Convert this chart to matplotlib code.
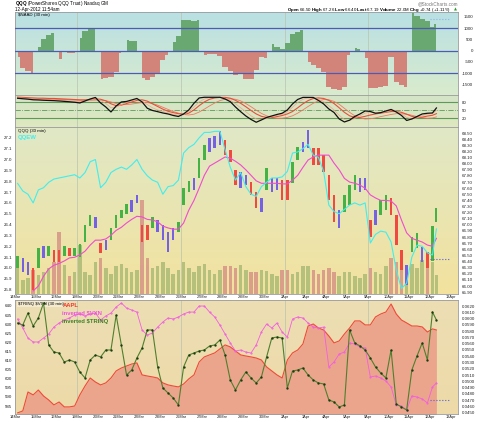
import numpy as np
import matplotlib
matplotlib.use("Agg")
import matplotlib.pyplot as plt

plt.rcParams['font.family'] = ['Liberation Sans', 'DejaVu Sans']
plt.rcParams['mathtext.fontset'] = 'custom'
plt.rcParams['mathtext.rm'] = 'Liberation Sans'
plt.rcParams['mathtext.bf'] = 'Liberation Sans:bold'

days = ["14Mar", "15Mar", "16Mar", "19Mar", "20Mar", "21Mar", "22Mar", "23Mar",
        "26Mar", "27Mar", "28Mar", "29Mar", "30Mar", "2Apr", "3Apr", "4Apr",
        "5Apr", "9Apr", "10Apr", "11Apr", "12Apr", "13Apr"]
week_starts = [3, 8, 13, 17]

# each session read as 4 groups of 30-min bars, 12Apr only two groups so far
qqq_hi = [66.49, 66.46, 66.39, 66.29, 66.62, 66.65, 66.65, 66.59,
          66.59, 66.65, 66.62, 66.62, 66.68, 66.99, 67.16, 67.13,
          66.70, 66.75, 66.95, 67.16, 67.24, 67.34, 67.40, 67.49,
          66.99, 66.99, 67.13, 67.08, 66.99, 66.88, 66.95, 67.05,
          67.60, 67.72, 67.76, 68.09, 68.30, 68.42, 68.45, 68.53,
          68.39, 68.22, 67.89, 67.86, 67.81, 67.70, 67.54, 67.44,
          67.93, 67.76, 67.76, 67.73, 67.73, 68.03, 68.27, 68.35,
          68.55, 68.25, 68.25, 68.14, 67.81, 67.49, 67.24, 67.49,
          67.65, 67.81, 67.76, 67.76, 67.08, 67.24, 67.40, 67.49,
          67.44, 67.16, 66.59, 66.34, 66.80, 66.86, 66.64, 66.55,
          66.98, 67.27]
qqq_lo = [66.29, 66.23, 66.18, 65.93, 66.29, 66.46, 66.49, 66.39,
          66.39, 66.49, 66.49, 66.49, 66.47, 66.72, 66.98, 66.95,
          66.54, 66.59, 66.75, 66.95, 67.11, 67.18, 67.21, 67.36,
          66.72, 66.75, 66.95, 66.88, 66.75, 66.55, 66.75, 66.88,
          67.32, 67.54, 67.57, 67.76, 68.06, 68.19, 68.25, 68.30,
          68.14, 68.03, 67.65, 67.60, 67.65, 67.49, 67.27, 67.21,
          67.57, 67.54, 67.57, 67.40, 67.40, 67.68, 68.06, 68.19,
          68.25, 67.98, 67.98, 67.86, 67.40, 67.04, 66.95, 67.21,
          67.32, 67.57, 67.54, 67.57, 66.80, 66.99, 67.16, 67.24,
          67.16, 66.67, 66.26, 66.01, 66.55, 66.62, 66.39, 66.29,
          66.41, 67.04]
qqq_impulse = ("gbbr" "gbgr" "rgrg" "gggb" "rbgg" "ggbb" "rrgb" "bbbg"
               "ggbg" "gbbb" "rrrb" "brrb" "gbbr" "rggb" "brrr" "rrbg"
               "ggbb" "rbgg" "rrrb" "ggbr" "gg")
qqq_ma = [np.nan, np.nan, np.nan, 65.92, 66.00, 66.16, 66.28, 66.34,
          66.37, 66.41, 66.46, 66.47, 66.51, 66.57, 66.67, 66.75,
          66.75, 66.77, 66.83, 66.91, 66.96, 67.03, 67.09, 67.14,
          67.13, 67.09, 67.08, 67.05, 66.98, 66.95, 66.93, 66.93,
          67.03, 67.24, 67.40, 67.60, 67.81, 67.96, 68.01, 68.06,
          68.11, 68.09, 68.04, 67.98, 67.90, 67.81, 67.72, 67.68,
          67.68, 67.68, 67.68, 67.67, 67.67, 67.73, 67.81, 67.94,
          68.06, 68.11, 68.14, 68.14, 68.14, 68.01, 67.90, 67.76,
          67.70, 67.68, 67.65, 67.60, 67.49, 67.44, 67.40, 67.40,
          67.39, 67.31, 67.08, 66.87, 66.78, 66.75, 66.72, 66.67,
          66.65, 66.78]
qqew = [26.78, 26.71, 26.68, 26.60, 26.72, 26.74, 26.79, 26.82,
        26.83, 26.84, 26.85, 26.86, 26.83, 26.88, 26.98, 27.00,
        26.74, 26.79, 26.88, 26.91, 26.93, 26.91, 26.95, 27.00,
        26.91, 26.85, 26.81, 26.79, 26.68, 26.75, 26.76, 26.81,
        27.06, 27.11, 27.14, 27.20, 27.25, 27.25, 27.26, 27.26,
        27.09, 26.93, 26.81, 26.88, 26.75, 26.68, 26.66, 26.75,
        26.79, 26.83, 26.83, 26.84, 26.89, 27.06, 27.07, 27.10,
        27.14, 27.04, 27.02, 26.89, 26.58, 26.52, 26.50, 26.54,
        26.58, 26.60, 26.58, 26.60, 26.23, 26.31, 26.34, 26.33,
        26.24, 25.98, 25.81, 25.86, 26.10, 26.21, 26.20, 26.14,
        26.12, 26.36]
volume_m = [6.2, 3.4, 3.8, 5.8, 4.6, 5.3, 6.2, 7.7,
            14.9, 7.0, 4.3, 5.3, 11.8, 5.3, 4.6, 7.7,
            8.6, 6.2, 4.8, 6.7, 7.2, 6.2, 5.3, 5.8,
            22.6, 8.6, 6.2, 6.7, 7.7, 6.2, 4.8, 5.8,
            7.7, 6.2, 5.3, 6.7, 7.2, 5.8, 4.8, 5.8,
            6.7, 6.7, 6.2, 7.0, 5.8, 5.3, 5.3, 5.8,
            5.5, 4.8, 4.3, 5.8, 5.8, 4.8, 5.3, 6.7,
            6.7, 5.8, 4.8, 5.8, 6.2, 5.3, 4.3, 5.3,
            5.3, 4.3, 3.8, 4.8, 6.2, 5.3, 4.8, 6.7,
            8.6, 7.7, 7.4, 6.7, 7.2, 6.2, 8.2, 9.1,
            7.7, 4.6]
naad = [-280, -770, -900, -990, 165, 520, 700, 785,
        -370, -60, -100, -100, 565, 875, 1010, 1010,
        -1255, -1210, -1170, -945, -100, 475, 430, 430,
        -1210, -1300, -1170, -990, -410, -190, 385, 650,
        1365, 1365, 1320, 1365, -190, -150, -150, -235,
        -725, -900, -1080, -1035, -1255, -1255, -855, -280,
        -325, 300, 165, 75, 340, 740, 830, 920,
        -500, -635, -770, -945, -1610, -1700, -1745, -1610,
        -190, 120, 75, -325, -1655, -1655, -1610, -1565,
        -280, -1390, -1520, -1610, 1675, 1540, 1405, 1320,
        1050, 1185]
stoch_fast = [95.8, 93.9, 92.4, 90.1, 89.4, 88.3, 87.5, 86.8,
              85.6, 84.1, 82.6, 80.8, 78.1, 85.6, 93.1, 98.8,
              78.1, 63.1, 44.4, 66.9, 81.9, 83.8, 89.4, 95.0,
              81.9, 58.3, 50.0, 45.5, 40.6, 36.9, 31.3, 27.5,
              36.9, 51.9, 77.0, 96.9, 99.5, 99.5, 99.5, 99.5,
              93.1, 83.0, 63.1, 45.5, 29.4, 16.3, 5.8, 14.4,
              23.8, 29.4, 35.0, 39.5, 51.9, 74.4, 91.3, 99.0,
              99.0, 98.8, 87.5, 74.4, 55.6, 42.5, 18.1, 6.9,
              13.6, 27.5, 36.9, 48.1, 46.3, 39.5, 41.8, 48.1,
              53.8, 44.4, 31.3, 12.5, 18.1, 27.5, 36.9, 39.5,
              40.6, 59.4]
stoch_mid = [97, 96, 95, 93, 92, 91, 90, 89,
             88, 87, 86, 85, 83, 85, 89, 94,
             88, 76, 60, 62, 72, 80, 86, 91,
             86, 72, 60, 52, 46, 41, 36, 32,
             34, 45, 63, 82, 93, 98, 99, 99,
             96, 89, 75, 60, 45, 30, 18, 16,
             20, 26, 31, 36, 45, 62, 80, 92,
             97, 98, 92, 83, 68, 52, 32, 16,
             12, 20, 30, 40, 43, 41, 41, 45,
             50, 47, 38, 24, 18, 22, 31, 36,
             38, 50]
stoch_slow = [100, 99, 98, 97, 96, 96, 95, 95,
              94, 93, 92, 91, 90, 90, 91, 93,
              92, 86, 75, 68, 70, 76, 82, 88,
              90, 85, 75, 65, 55, 47, 42, 38,
              36, 40, 52, 68, 82, 92, 97, 99,
              99, 96, 88, 77, 64, 50, 37, 28,
              24, 24, 27, 31, 37, 46, 60, 75,
              87, 95, 97, 95, 88, 76, 60, 43,
              30, 24, 24, 28, 33, 37, 40, 43,
              46, 46, 43, 36, 28, 24, 25, 29,
              32, 38]
stoch_slowest = [95, 95, 94, 94, 93, 93, 92, 92,
                 91, 91, 90, 89, 88, 88, 88, 89,
                 89, 87, 82, 76, 72, 72, 74, 77,
                 80, 80, 76, 70, 62, 54, 46, 40,
                 35, 33, 36, 44, 55, 67, 78, 87,
                 92, 94, 92, 86, 76, 64, 51, 39,
                 30, 24, 21, 21, 24, 30, 40, 52,
                 65, 77, 86, 91, 90, 84, 73, 58,
                 43, 30, 22, 18, 19, 22, 27, 31,
                 35, 38, 38, 36, 32, 27, 23, 21,
                 22, 26]
aapl = [581.2, 582.3, 592.7, 591.1, 593.8, 590.5, 588.3, 585.6,
        587.2, 584.5, 584.5, 585.0, 591.1, 596.0, 600.4, 598.2,
        596.6, 597.7, 600.4, 604.3, 605.9, 607.0, 608.1, 608.7,
        602.1, 601.5, 601.0, 600.4, 597.7, 596.6, 596.0, 595.5,
        597.1, 599.9, 602.1, 609.2, 612.0, 613.1, 614.2, 616.4,
        618.6, 617.5, 615.3, 613.1, 612.5, 612.0, 611.4, 610.3,
        606.5, 604.3, 602.1, 600.4, 610.3, 614.2, 615.8, 619.1,
        629.0, 630.1, 627.9, 626.8, 623.5, 619.7, 620.8, 624.6,
        627.9, 631.8, 631.8, 629.6, 629.6, 634.0, 635.6, 636.7,
        641.1, 635.6, 632.3, 630.7, 629.0, 629.0, 628.5, 625.7,
        627.4, 626.8]
vxn_inverted = [0.05993, 0.05850, 0.05690, 0.05627, 0.05627, 0.05690, 0.05754, 0.05865,
                0.05929, 0.05977, 0.06009, 0.06057, 0.06073, 0.06041, 0.06073, 0.06088,
                0.05977, 0.06041, 0.06088, 0.06184, 0.06248, 0.06168, 0.06136, 0.06104,
                0.05818, 0.05738, 0.05770, 0.05865, 0.05945, 0.06009, 0.05993, 0.06025,
                0.06073, 0.06104, 0.06104, 0.06200, 0.06200, 0.06104, 0.06025, 0.05897,
                0.05754, 0.05611, 0.05483, 0.05499, 0.05467, 0.05451, 0.05579, 0.05786,
                0.05913, 0.05850, 0.05929, 0.05786, 0.05706, 0.05993, 0.06025, 0.06009,
                0.05929, 0.05865, 0.05850, 0.05865, 0.05228, 0.05308, 0.05435, 0.05467,
                0.05611, 0.05595, 0.05547, 0.05531, 0.05069, 0.05085, 0.05053, 0.05005,
                0.04910, 0.04623, 0.04607, 0.04543, 0.04766, 0.04750, 0.04719, 0.04655,
                0.04910, 0.04973]
trinq_inverted = [0.05929, 0.05897, 0.06088, 0.05881, 0.06009, 0.06248, 0.05579, 0.05467,
                  0.05451, 0.05308, 0.05340, 0.05308, 0.05149, 0.05053, 0.05340, 0.05419,
                  0.05388, 0.05499, 0.05499, 0.06057, 0.05579, 0.05101, 0.05180, 0.05372,
                  0.05531, 0.05818, 0.05818, 0.05228, 0.04894, 0.04814, 0.04734, 0.04623,
                  0.05228, 0.05419, 0.05451, 0.05483, 0.05499, 0.05563, 0.05579, 0.05658,
                  0.05419, 0.05021, 0.04862, 0.05021, 0.05149, 0.05053, 0.04973, 0.05069,
                  0.05388, 0.05690, 0.05706, 0.05690, 0.04894, 0.05165, 0.05180, 0.05212,
                  0.05101, 0.05021, 0.04973, 0.04958, 0.04703, 0.04671, 0.04591, 0.04623,
                  0.05818, 0.05611, 0.05563, 0.05499, 0.05372, 0.05228, 0.05133, 0.05053,
                  0.05499, 0.04639, 0.04591, 0.04543, 0.05180, 0.05404, 0.05611, 0.05340,
                  0.06104, 0.05977]
naad_prev = 1400
qqq_prev = 66.45
vxn_prev = 0.0470

# x position of each sample in session units
xs = np.array([d + (k + 0.5) / 4 for d in range(20) for k in range(4)] + [20.12, 20.31])
bar_w = np.array([0.12] * 80 + [0.1, 0.1])
vol_w = np.array([0.17] * 80 + [0.14, 0.14])
impulse_colors = {'g': '#45b245', 'r': '#f04a40', 'b': '#7462e2'}
bar_colors = [impulse_colors[c] for c in qqq_impulse]
vol_colors = ['#d48f84' if c == 'r' else '#a6b872' for c in qqq_impulse]

fig = plt.figure(figsize=(4.8, 4.22), dpi=100)
fig.patch.set_facecolor('white')
L, W = 15 / 480, 443 / 480
ax1 = fig.add_axes([L, 1 - 95 / 422, W, 83 / 422])
ax2 = fig.add_axes([L, 1 - 127 / 422, W, 32 / 422])
ax3 = fig.add_axes([L, 1 - 294 / 422, W, 167 / 422])
ax4 = fig.add_axes([L, 1 - 414 / 422, W, 114 / 422])


def gradient(ax, top, bottom):
    t = np.linspace(0, 1, 64)[:, None]
    c0 = np.array(top) / 255
    c1 = np.array(bottom) / 255
    img = (c0[None, None, :] * (1 - t[:, :, None]) + c1[None, None, :] * t[:, :, None])
    ax.imshow(img, extent=[0, 1, 0, 1], transform=ax.transAxes, aspect='auto', zorder=0)


for ax in (ax1, ax2, ax3, ax4):
    for s in ax.spines.values():
        s.set_color('#9a9a9a')
        s.set_linewidth(0.6)
    ax.tick_params(length=0, labelsize=3.2, colors='#222222')

gradient(ax1, (185, 224, 228), (217, 235, 205))
gradient(ax2, (212, 228, 200), (222, 232, 192))
gradient(ax3, (224, 232, 198), (243, 226, 158))
gradient(ax4, (236, 222, 180), (238, 218, 168))

# ---- panel 1: $NAAD
naad_arr = np.array(naad, dtype=float)
ax1.fill_between(xs, naad_arr, 0, where=naad_arr >= -1, step='mid',
                 color='#6aa872', lw=0, zorder=2)
ax1.fill_between(xs, naad_arr, 0, where=naad_arr <= 1, step='mid',
                 color='#d3847a', lw=0, zorder=2)
for lv in (1000, 0, -1000):
    ax1.axhline(lv, color='#4c5cb4', lw=0.9, zorder=3)
ax1.plot([20.0, 20.96], [naad_prev, naad_prev], color='#8ab4ec', lw=0.8, ls=':', zorder=3)
ax1.set_ylim(-1967, 1718)
ax1.yaxis.tick_right()
ax1.set_yticks([1500, 1000, 500, 0, -500, -1000, -1500])
ax1.set_yticklabels(['1500', '1000', '500', '0', '-500', '-1000', '-1500'])
ax1.tick_params(axis='y', pad=10.8)
for lab in ax1.get_yticklabels():
    lab.set_ha('right')
ax1.text(0.006, 0.985, r"\$NAAD (30 min)", transform=ax1.transAxes, fontsize=3.2,
         va='top', ha='left', zorder=5)

# ---- panel 2: stochastics
ax2.axhline(80, color='#5c9a58', lw=0.8, zorder=2)
ax2.axhline(20, color='#5c9a58', lw=0.8, zorder=2)
ax2.axhline(50, color='#5c9a58', lw=0.6, ls='-.', zorder=2)
ax2.plot(xs, stoch_slowest, color='#ee7a62', lw=0.6, zorder=3)
ax2.plot(xs, stoch_slow, color='#e8503c', lw=0.8, zorder=3)
ax2.plot(xs, stoch_mid, color='#f2a488', lw=0.5, zorder=3)
ax2.plot(xs, stoch_fast, color='#111111', lw=0.9, zorder=4)
ax2.set_ylim(-12, 108)
ax2.yaxis.tick_right()
ax2.set_yticks([80, 50, 20])
ax2.tick_params(axis='y', pad=2.5)

# ---- panel 3: QQQ, volume, QQEW
ax3.bar(xs, volume_m, width=vol_w, color=vol_colors, alpha=0.8, zorder=2)
ax3.set_ylim(0, 40)
ax3.set_yticks([])
ax3p = ax3.twinx()
ax3p.bar(xs, np.array(qqq_hi) - np.array(qqq_lo), bottom=qqq_lo, width=bar_w,
         color=bar_colors, zorder=3)
ax3p.plot(xs, qqq_ma, color='#f04ccf', lw=0.8, zorder=4)
ax3p.plot([20.0, 20.96], [qqq_prev, qqq_prev], color='#5a5ae0', lw=0.8, ls=':', zorder=4)
ax3p.set_ylim(65.87, 68.60)
ax3p.set_yticks([round(65.9 + 0.1 * i, 2) for i in range(27)])
ax3p.set_yticklabels(['%.2f' % (65.9 + 0.1 * i) for i in range(27)])
ax3p.tick_params(length=0, labelsize=3.2, pad=2.5, colors='#222222')
ax3q = ax3.twinx()
ax3q.plot(xs, qqew, color='#3feeee', lw=0.8, zorder=4)
ax3q.set_ylim(25.76, 27.30)
ax3q.yaxis.tick_left()
ax3q.set_yticks([round(25.8 + 0.1 * i, 1) for i in range(15)])
ax3q.set_yticklabels(['%.1f' % (25.8 + 0.1 * i) for i in range(15)])
ax3q.tick_params(length=0, labelsize=3.2, pad=2.0, colors='#222222')
for a in (ax3p, ax3q):
    for s in a.spines.values():
        s.set_visible(False)
ax3q.text(0.006, 0.99, "QQQ (30 min)", transform=ax3.transAxes, fontsize=3.2,
          va='top', ha='left')
ax3q.text(0.006, 0.955, "QQEW", transform=ax3.transAxes, fontsize=4.3,
          fontweight='bold', color='#3feeee', va='top', ha='left')

# ---- panel 4: AAPL, inverted $VXN, inverted $TRINQ
ax4.fill_between(xs, aapl, 570, color='#eba58d', lw=0, zorder=2)
ax4.plot(xs, aapl, color='#f04a3a', lw=0.8, zorder=3)
ax4.set_ylim(580.6, 643.3)
ax4.set_yticks(list(range(585, 645, 5)))
ax4.tick_params(axis='y', pad=2.0)
ax4r = ax4.twinx()
ax4r.plot(xs, vxn_inverted, color='#f25ee0', lw=0.6, marker='.', ms=1.0, zorder=3)
ax4r.plot(xs, trinq_inverted, color='#4f7f2e', lw=0.8, marker='.', ms=1.4,
          mfc='#1c3a10', mec='#1c3a10', zorder=4)
ax4r.plot([20.0, 20.96], [vxn_prev, vxn_prev], color='#5a5ae0', lw=0.8, ls=':', zorder=4)
ax4r.set_ylim(0.04479, 0.06296)
ax4r.set_yticks([round(0.045 + 0.001 * i, 4) for i in range(18)])
ax4r.set_yticklabels(['%.4f' % (0.045 + 0.001 * i) for i in range(18)])
ax4r.tick_params(length=0, labelsize=3.2, pad=2.5, colors='#222222')
for s in ax4r.spines.values():
    s.set_visible(False)
ax4r.text(0.006, 0.985, r"\$TRINQ \$VXN (30 min)", transform=ax4.transAxes, fontsize=3.2,
          va='top', ha='left', bbox=dict(facecolor='#f4ead0', edgecolor='none', pad=0.6))
ax4r.text(0.107, 0.975, "AAPL", transform=ax4.transAxes, fontsize=4.2, fontweight='bold',
          color='#f03a2e', va='top')
ax4r.text(0.107, 0.905, r"inverted \$VXN", transform=ax4.transAxes, fontsize=4.2,
          fontweight='bold', color='#f050e0', va='top')
ax4r.text(0.107, 0.835, r"inverted \$TRINQ", transform=ax4.transAxes, fontsize=4.2,
          fontweight='bold', color='#3f7f25', va='top')

# ---- shared x axis
for ax in (ax1, ax2, ax3, ax4):
    ax.set_xlim(0.05, 21.35)
    for w in week_starts:
        ax.axvline(w, color='#b9c3b0', lw=0.5, zorder=1)
    ax.set_xticks(range(len(days)))
for ax in (ax1, ax2):
    ax.set_xticklabels([])
for ax in (ax3, ax4):
    ax.set_xticklabels(days, fontsize=2.8)
    ax.tick_params(axis='x', pad=1.0)

# ---- header
fig.text(15 / 480, 1 - 4 / 422, r"$\mathbf{QQQ}$ (PowerShares QQQ Trust) Nasdaq GM",
         fontsize=3.3, va='center', ha='left')
fig.text(15 / 480, 1 - 9.5 / 422, "12-Apr-2012 11:54am", fontsize=3.3, va='center', ha='left')
fig.text(458 / 480, 1 - 3.5 / 422, "@StockCharts.com", fontsize=3.3, va='center', ha='right',
         color='#777777')
fig.text(451 / 480, 1 - 9.5 / 422,
         r"$\mathbf{Open}$ 66.50 $\mathbf{High}$ 67.26 $\mathbf{Low}$ 66.40 "
         r"$\mathbf{Last}$ 67.19 $\mathbf{Volume}$ 22.0M $\mathbf{Chg}$ +0.74 (+1.11%)",
         fontsize=3.2, va='center', ha='right')
fig.text(457 / 480, 1 - 9.5 / 422, "\u25b2", fontsize=2.8, va='center', ha='right',
         color='#2e9a2e', family=['DejaVu Sans'])

fig.savefig("out.png", dpi=100)
